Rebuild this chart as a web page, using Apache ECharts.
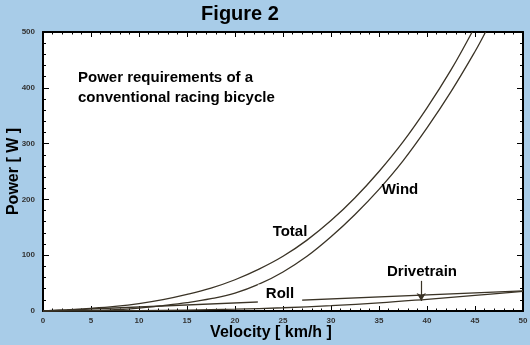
<!DOCTYPE html>
<html>
<head>
<meta charset="utf-8">
<script src="https://cdn.jsdelivr.net/npm/echarts@6/dist/echarts.min.js"></script>
<style>
html,body{margin:0;padding:0;background:#a8cce8;}
#c{width:530px;height:345px;}
</style>
</head>
<body>
<div id="c"></div>
<script>
// ---- data ----
const totalV   = [0, 2.5, 5, 7.5, 10, 12.5, 15, 17.5, 20, 22.5, 25, 27.5, 30, 32.5, 35, 37.5, 40, 42.5, 44.7];
const totalP   = [0, 2.1, 4.7, 8.2, 13.2, 20.2, 29.6, 41, 56, 75, 98, 127, 162, 203, 250, 303, 364, 432, 500];
const windV    = [0, 2.5, 5, 7.5, 10, 12.5, 15, 17.5, 20, 22.5, 25, 27.5, 30, 32.5, 35, 37.5, 40, 42.5, 45, 46.1];
const windP    = [0, 0.1, 0.7, 2.2, 5.2, 9.7, 15, 22, 32, 48, 70, 98, 133, 173, 218, 269, 328, 393, 465, 500];
const rollV    = [0, 50];
const rollP    = [0, 36];
const driveV   = [0, 5, 10, 15, 20, 25, 30, 35, 40, 45, 50];
const driveP   = [0, 0.3, 0.8, 1.7, 3.2, 5.8, 9.5, 14.5, 21, 28, 35];
const xTicks   = {min: 0, max: 50, step: 5};
const yTicks   = {min: 0, max: 500, step: 100};
const drivetrainArrow = {v: 39.4, from: 54, to: 18};

const pairs = (xs, ys) => xs.map((x, i) => [x, ys[i]]);
const lineColor = '#3a3326';
const FONT = '"Liberation Sans", Arial, sans-serif';

const chart = echarts.init(document.getElementById('c'), null, {renderer: 'canvas'});

const baseX = {
  type: 'value', min: xTicks.min, max: xTicks.max, interval: xTicks.step,
  splitLine: {show: false},
  axisTick: {show: true, inside: true, length: 5, lineStyle: {color: '#000', width: 1}},
  minorTick: {show: true, splitNumber: 5, length: 2.5, lineStyle: {color: '#000', width: 1}},
  axisLine: {show: true, onZero: false, lineStyle: {color: '#000', width: 2}}
};
const baseY = {
  type: 'value', min: yTicks.min, max: yTicks.max, interval: yTicks.step,
  splitLine: {show: false},
  axisTick: {show: true, inside: true, length: 6, lineStyle: {color: '#000', width: 1}},
  minorTick: {show: true, splitNumber: 5, length: 3, lineStyle: {color: '#000', width: 1}},
  axisLine: {show: true, onZero: false, lineStyle: {color: '#000', width: 2}}
};

const lineSeries = (name, xs, ys, extra) => Object.assign({
  name, type: 'line', data: pairs(xs, ys), showSymbol: false, symbol: 'none',
  smooth: 0.4, lineStyle: {color: lineColor, width: 1.3}, z: 3, animation: false
}, extra || {});

chart.setOption({
  animation: false,
  backgroundColor: '#a8cce8',
  textStyle: {fontFamily: FONT},
  grid: {left: 43, right: 7, top: 32, bottom: 34, show: true, backgroundColor: '#ffffff', borderWidth: 0,
         containLabel: false, outerBoundsMode: 'none'},
  xAxis: [
    Object.assign({}, baseX, {
      position: 'bottom',
      axisLabel: {margin: 6, fontSize: 8, fontWeight: 'bold', color: '#333', fontFamily: FONT},
      name: 'Velocity [ km/h ]', nameLocation: 'middle', nameGap: 14, nameMoveOverlap: false,
      nameTextStyle: {fontSize: 16, fontWeight: 'bold', color: '#000', fontFamily: FONT, padding: [0, 24, 0, 0]}
    }),
    Object.assign({}, baseX, {position: 'top', axisLabel: {show: false}})
  ],
  yAxis: [
    Object.assign({}, baseY, {
      position: 'left',
      axisLabel: {margin: 8, fontSize: 8, fontWeight: 'bold', color: '#333', fontFamily: FONT},
      name: 'Power [ W ]', nameLocation: 'middle', nameGap: 21, nameMoveOverlap: false,
      nameTextStyle: {fontSize: 16, fontWeight: 'bold', color: '#000', fontFamily: FONT}
    }),
    Object.assign({}, baseY, {position: 'right', axisLabel: {show: false}})
  ],
  series: [
    lineSeries('Total', totalV, totalP),
    lineSeries('Wind', windV, windP),
    lineSeries('Roll', rollV, rollP, {smooth: false}),
    lineSeries('Drivetrain', driveV, driveP, {
      markLine: {
        silent: true, animation: false,
        symbol: ['none', 'arrow'], symbolSize: [7, 8],
        label: {show: false},
        lineStyle: {color: lineColor, width: 1.2, type: 'solid'},
        data: [[{coord: [drivetrainArrow.v, drivetrainArrow.from]}, {coord: [drivetrainArrow.v, drivetrainArrow.to]}]]
      }
    })
  ],
  graphic: [
    {type: 'text', z: 100, style: {text: 'Figure 2', x: 240, y: 14, align: 'center', verticalAlign: 'middle',
      font: 'bold 20px ' + FONT, fill: '#000'}},
    {type: 'text', z: 100, style: {text: 'Power requirements of a\nconventional racing bicycle', x: 78, y: 68,
      align: 'left', verticalAlign: 'top', lineHeight: 20, font: 'bold 15px ' + FONT, fill: '#000'}},
    {type: 'text', z: 100, style: {text: 'Total', x: 290, y: 232, align: 'center', verticalAlign: 'middle',
      font: 'bold 15px ' + FONT, fill: '#000'}},
    {type: 'text', z: 100, style: {text: 'Wind', x: 400, y: 190, align: 'center', verticalAlign: 'middle',
      font: 'bold 15px ' + FONT, fill: '#000'}},
    {type: 'text', z: 100, style: {text: 'Roll', x: 280, y: 294, align: 'center', verticalAlign: 'middle',
      font: 'bold 15px ' + FONT, fill: '#000', backgroundColor: '#ffffff', padding: [0, 8, 4, 8]}},
    {type: 'text', z: 100, style: {text: 'Drivetrain', x: 422, y: 272, align: 'center', verticalAlign: 'middle',
      font: 'bold 15px ' + FONT, fill: '#000'}}
  ]
});
</script>
</body>
</html>
